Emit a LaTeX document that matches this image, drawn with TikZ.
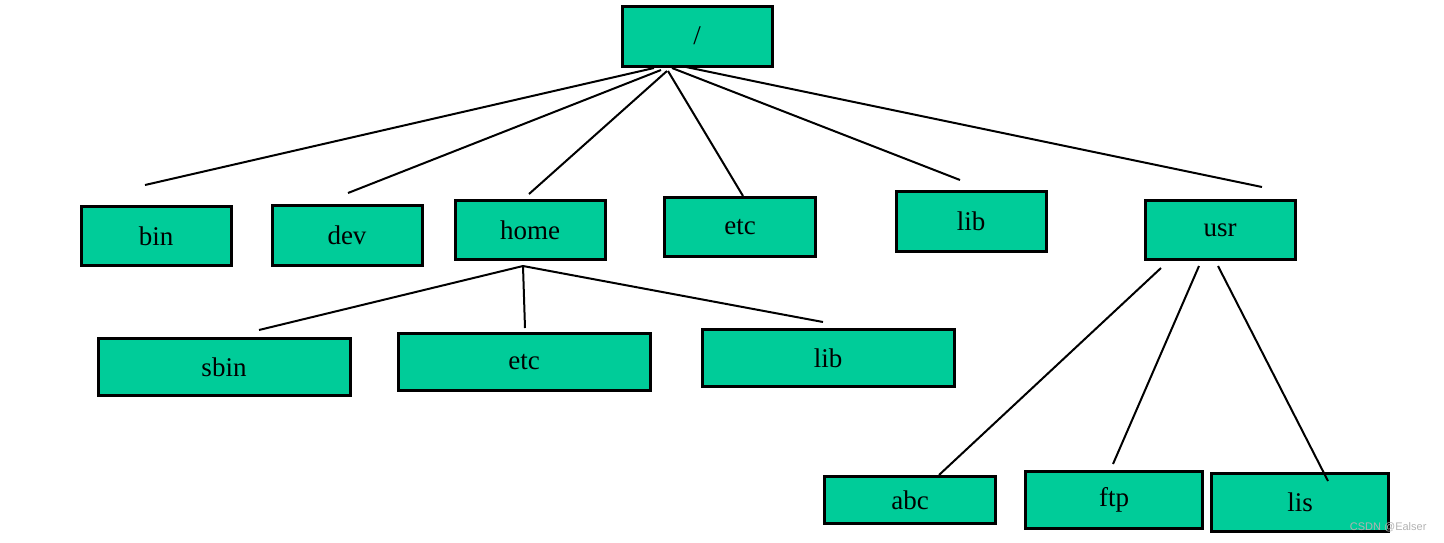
\documentclass[tikz,border=0pt]{standalone}
\usepackage{fontspec}
\setmainfont{Liberation Serif}
\newfontfamily\wmfont{Liberation Sans}
\begin{document}
\begin{tikzpicture}[x=1pt,y=-1pt,
  box/.style={draw=black,line width=3pt,fill=boxgreen,minimum height=#1,inner sep=0pt,font=\fontsize{27}{30}\selectfont},
  link/.style={line width=2pt,black}]
\definecolor{boxgreen}{RGB}{0,204,153}
\useasboundingbox (0,0) rectangle (1444,542);
\node[box=60pt,minimum width=150pt] (root) at (697,36) {/};
\node[box=59pt,minimum width=150pt] (bin) at (156,236) {bin};
\node[box=60pt,minimum width=150pt] (dev) at (347,235) {dev};
\node[box=59pt,minimum width=150pt] (home) at (530,230) {home};
\node[box=59pt,minimum width=151pt] (etc) at (740,227) {etc};
\node[box=60pt,minimum width=150pt] (lib) at (971,221) {lib};
\node[box=59pt,minimum width=150pt] (usr) at (1220,230) {usr};
\node[box=57pt,minimum width=252pt] (sbin) at (224,367) {sbin};
\node[box=57pt,minimum width=252pt] (etcb) at (524,362) {etc};
\node[box=57pt,minimum width=252pt] (libb) at (828,358) {lib};
\node[box=47pt,minimum width=171pt] (abc) at (910,500) {abc};
\node[box=57pt,minimum width=177pt] (ftp) at (1114,500) {ftp};
\node[box=58pt,minimum width=177pt] (lis) at (1300,502) {lis};
\node[font=\wmfont\fontsize{11}{13}\selectfont,text=black!30,anchor=east] (wm) at (1430,527) {CSDN @Ealser};
% free ends
\coordinate (r1) at (654,68); \coordinate (r2) at (661,70); \coordinate (r3) at (667,71);
\coordinate (r4) at (668,71); \coordinate (r5) at (672,68); \coordinate (r6) at (686,67);
\coordinate (bin t) at (145,185); \coordinate (dev t) at (348,193); \coordinate (home t) at (529,194);
\coordinate (etc t) at (743,196); \coordinate (lib t) at (960,180); \coordinate (usr t) at (1262,187);
\coordinate (h0) at (523,266);
\coordinate (sbin t) at (259,330); \coordinate (etcb t) at (525,328); \coordinate (libb t) at (823,322);
\coordinate (u1) at (1161,268); \coordinate (u2) at (1199,266); \coordinate (u3) at (1218,266);
\coordinate (abc t) at (939,475); \coordinate (ftp t) at (1113,464); \coordinate (lis t) at (1328,481);
\draw[link] (r1) -- (bin t);
\draw[link] (r2) -- (dev t);
\draw[link] (r3) -- (home t);
\draw[link] (r4) -- (etc t);
\draw[link] (r5) -- (lib t);
\draw[link] (r6) -- (usr t);
\draw[link] (h0) -- (sbin t);
\draw[link] (h0) -- (etcb t);
\draw[link] (h0) -- (libb t);
\draw[link] (u1) -- (abc t);
\draw[link] (u2) -- (ftp t);
\draw[link] (u3) -- (lis t);
\end{tikzpicture}
\end{document}
